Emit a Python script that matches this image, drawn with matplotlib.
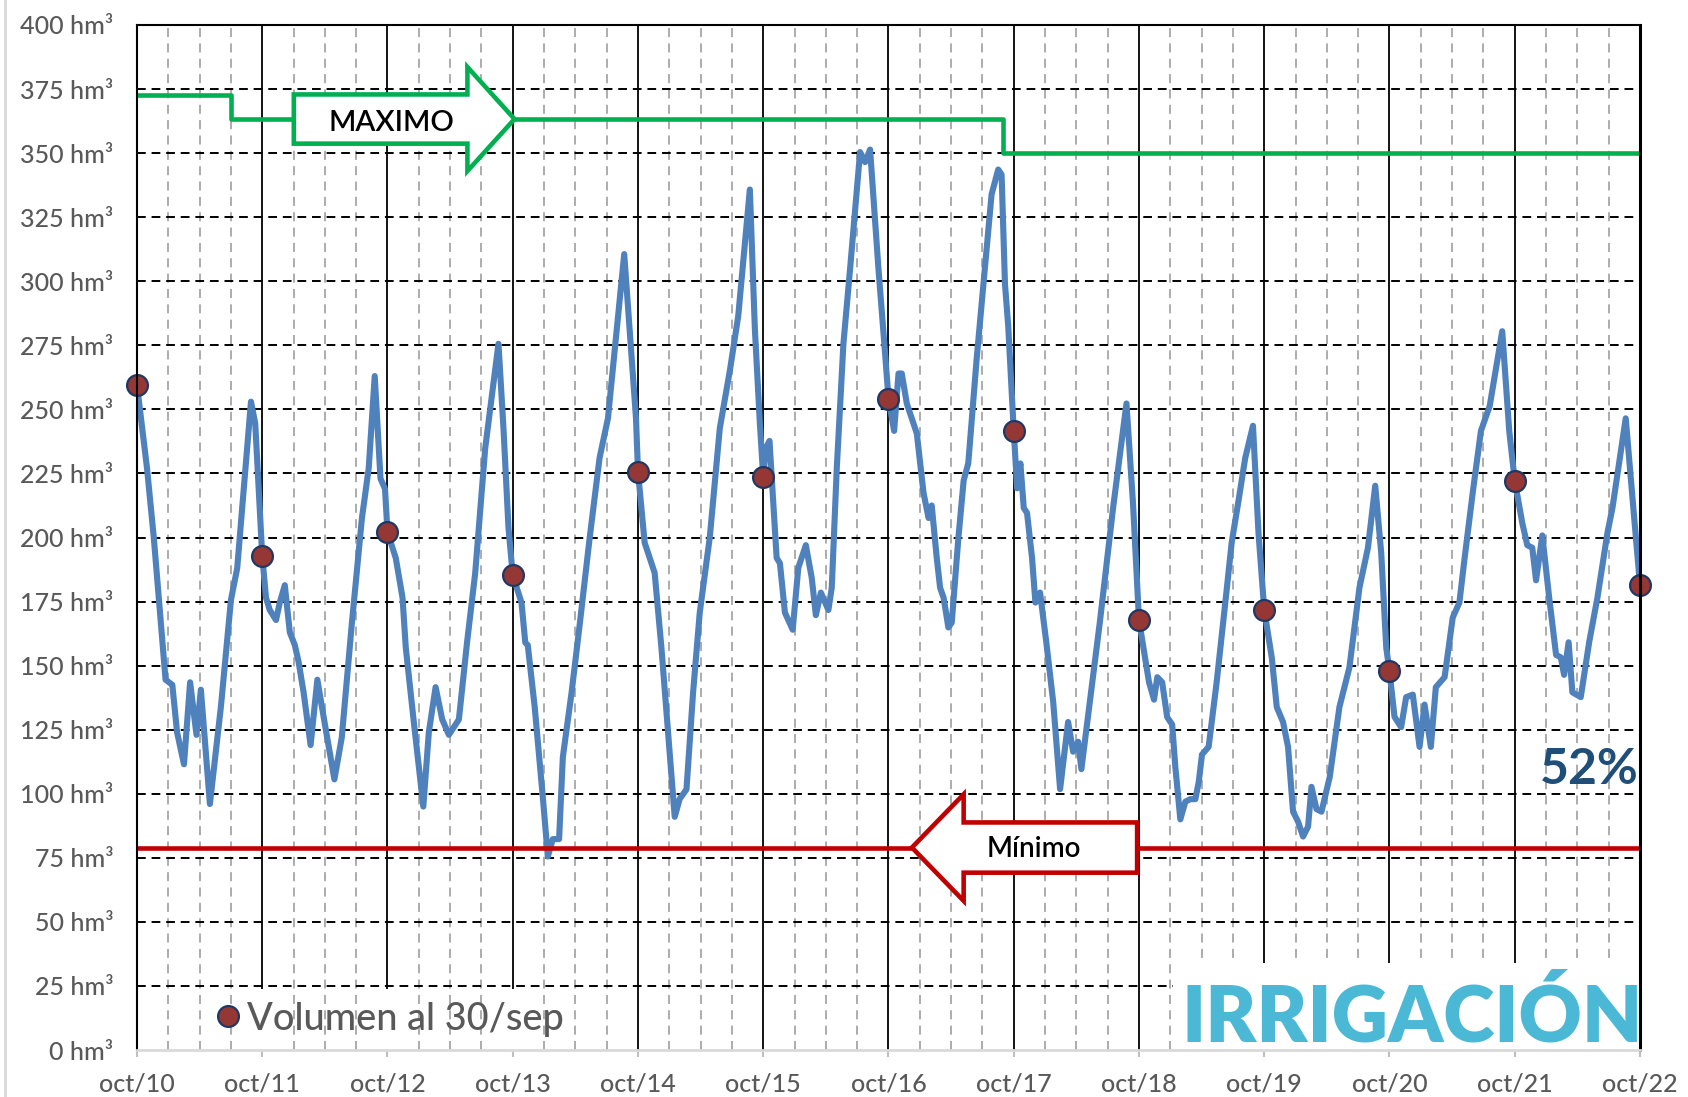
import matplotlib
matplotlib.use("Agg")
import matplotlib.pyplot as plt
from matplotlib.patches import Polygon, Rectangle
from matplotlib.lines import Line2D

plt.rcParams['font.family'] = ['Lato', 'DejaVu Sans']

# ---------------- data ----------------
year_labels = ["oct/10", "oct/11", "oct/12", "oct/13", "oct/14", "oct/15", "oct/16",
               "oct/17", "oct/18", "oct/19", "oct/20", "oct/21", "oct/22"]
y_ticks = [0, 25, 50, 75, 100, 125, 150, 175, 200, 225, 250, 275, 300, 325, 350, 375, 400]

# reservoir volume (hm3); time in years since oct/10
vol_t = [0.0, 0.08, 0.134, 0.228, 0.282, 0.32, 0.375, 0.424, 0.475, 0.51, 0.582, 0.67, 0.75, 0.80,
         0.91, 0.944, 1.0, 1.03, 1.06, 1.11, 1.14, 1.18, 1.22, 1.26, 1.29, 1.33, 1.386, 1.44, 1.49,
         1.576, 1.635, 1.716, 1.796, 1.85, 1.898, 1.944, 1.98, 2.0,
         2.066, 2.12, 2.146, 2.21, 2.286, 2.33, 2.384, 2.437, 2.49, 2.57, 2.635, 2.70, 2.78, 2.886,
         2.926, 2.966, 3.0, 3.07, 3.10, 3.12, 3.175, 3.243, 3.28, 3.32, 3.37, 3.40, 3.47, 3.534,
         3.614, 3.693, 3.76, 3.89, 3.984, 4.0,
         4.053, 4.08, 4.133, 4.187, 4.293, 4.333, 4.387, 4.44, 4.493, 4.573, 4.653, 4.733, 4.8,
         4.893, 4.933, 4.973, 5.0, 5.02, 5.05, 5.107, 5.133, 5.173, 5.235, 5.28, 5.34, 5.387, 5.42,
         5.46, 5.52, 5.547, 5.587, 5.64, 5.693, 5.773, 5.813, 5.853, 5.92, 5.973, 6.0,
         6.045, 6.08, 6.106, 6.146, 6.186, 6.226, 6.28, 6.32, 6.345, 6.385, 6.412, 6.44, 6.478,
         6.505, 6.558, 6.6, 6.637, 6.704, 6.783, 6.823, 6.876, 6.903, 6.93, 6.956, 7.0,
         7.027, 7.053, 7.08, 7.106, 7.146, 7.173, 7.21, 7.26, 7.315, 7.37, 7.434, 7.474, 7.514,
         7.54, 7.607, 7.687, 7.793, 7.9, 7.952, 8.0,
         8.08, 8.12, 8.146, 8.185, 8.225, 8.265, 8.29, 8.33, 8.37, 8.41, 8.45, 8.477, 8.503, 8.556,
         8.62, 8.69, 8.74, 8.795, 8.848, 8.91, 8.954, 9.0, 9.06, 9.1, 9.15, 9.19, 9.23, 9.27, 9.31,
         9.35, 9.377, 9.417, 9.457, 9.523, 9.6, 9.68, 9.76, 9.828, 9.886, 9.934, 9.974, 10.0,
         10.04, 10.093, 10.133, 10.186, 10.24, 10.28, 10.33, 10.37, 10.44, 10.505, 10.558, 10.6,
         10.664, 10.73, 10.8, 10.9, 10.956, 11.0, 11.06, 11.1, 11.14, 11.17, 11.22, 11.275, 11.33,
         11.368, 11.394, 11.43, 11.46, 11.527, 11.594, 11.66, 11.74, 11.78, 11.886, 11.94, 12.0]
vol_v = [259.5, 227, 200, 144.5, 142.5, 124, 111.5, 143.5, 123, 140.6, 96, 134, 175.6, 188,
         253, 244.5, 192.7, 176.5, 171.7, 167.8, 174.6, 181.4, 163, 158, 151.5, 139.6, 119, 144.5, 130,
         105.6, 122, 166.8, 207.6, 227, 263, 223, 219, 202,
         192, 176.5, 157, 128, 95, 124, 141.6, 129, 123, 129, 159, 186, 234.8, 275.6,
         242.6, 203.7, 185.3, 174.6, 159, 158, 134, 97, 75.5, 82.3, 82.3, 114.3, 139.6, 165.8,
         199.8, 231, 246.5, 310.6, 246.5, 225.7,
         198, 194, 186.2, 157, 91, 98, 101.7, 139.6, 170.7, 200, 242.6, 265, 286.3,
         335.8, 281.4, 244.5, 223.5, 234.8, 237.7, 192, 190, 170.7, 164, 188.2, 197, 184.3, 169.7,
         178.5, 171.7, 180.4, 227, 275.6, 304.7, 350.4, 346.5, 351.4, 304.7, 271.7, 254.2,
         241.6, 264, 264, 252.3, 246.5, 240.6, 217.3, 207.6, 212.5, 192.1, 180.4, 176.5, 164.9,
         166.8, 199.8, 222.2, 229, 269.8, 312.5, 333.9, 343.6, 341.6, 298.9, 282.4, 241.6,
         219.2, 228.9, 211.5, 209.6, 192.1, 174.6, 178.5, 159.1, 135.8, 101.8, 128, 116.4, 120.3,
         109.6, 135.8, 166.8, 211.5, 252.3, 213.4, 167.8,
         143.5, 136.7, 145.5, 143.5, 129.9, 127, 110.5, 90, 96.9, 97.9, 97.9, 104.6, 115.3, 118.3,
         143.5, 175, 198, 214.5, 231, 243.6, 201.8, 171.7, 153.2, 133.8, 128, 118.3, 93, 89.1, 83.3,
         87.2, 102.7, 94, 93, 106.6, 133.8, 149.3, 180.4, 196, 220.2, 193.9, 157, 147.8,
         130, 126, 137.7, 138.7, 118.3, 134.8, 118.3, 141.6, 145.5, 168.8, 174.6, 192.1,
         217.3, 241.6, 251.3, 280.5, 241.6, 222.2, 205.7, 197, 196, 183.3, 200.8, 176.5, 154.2,
         153.2, 146.4, 159.1, 139.6, 137.7, 159.1, 176.5, 201.8, 211.5, 246.5, 215.4, 181.4]

# volume at 30/sep each year
sep_t = [0, 1, 2, 3, 4, 5, 6, 7, 8, 9, 10, 11, 12]
sep_v = [259.5, 192.7, 202, 185.3, 225.7, 223.5, 254.2, 241.6, 167.8, 171.7, 147.8, 222.2, 181.4]

# maximum (step) and minimum levels
max_t = [0, 0.747, 6.916, 12]
max_v = [372.8, 363.4, 350, 350]
min_t = [0, 12]
min_v = [79, 79]

pct_text = "52%"

# ---------------- styling ----------------
BLUE = "#4F81BD"
GREEN = "#00B050"
RED = "#C00000"
DOT = "#953735"
DOT_EDGE = "#1F3864"
GRAY_TXT = "#595959"

fig = plt.figure(figsize=(16.88, 10.97), dpi=100)
ax = fig.add_axes([137 / 1688, 1 - 1050 / 1097, (1640 - 137) / 1688, (1050 - 25) / 1097])
ax.set_xlim(0, 12)
ax.set_ylim(0, 400)

# grid
ax.set_xticks(range(len(year_labels)))
ax.set_xticklabels(year_labels)
ax.set_xticks([y + q / 4 for y in range(12) for q in (1, 2, 3)], minor=True)
ax.set_yticks(y_ticks)
ax.set_yticklabels([f"{v} hm\u00b3" for v in y_ticks])

for i in range(1, len(year_labels) - 1):
    ax.axvline(i, color="black", lw=1.3, zorder=1.0)
for xm in ax.get_xticks(minor=True):
    ax.axvline(xm, color="#A6A6A6", lw=1.3, ls=(0, (5, 3.5)), zorder=2.0)
for yv in y_ticks[1:-1]:
    ax.axhline(yv, color="black", lw=1.4, ls=(0, (4.5, 3)), zorder=2.1)

# legend background (hides the year lines only)
ax.add_patch(Rectangle((0, 0), 3.5, 24, facecolor="white", edgecolor="none", zorder=1.5))

# series
ax.plot(vol_t, vol_v, color=BLUE, lw=4.4, solid_joinstyle="round", zorder=3)
ax.plot(max_t, max_v, color=GREEN, lw=3.3, drawstyle="steps-post", zorder=3.2)
ax.plot(min_t, min_v, color=RED, lw=3.3, zorder=3.2)
dots, = ax.plot(sep_t, sep_v, "o", ms=15, mfc=DOT, mec=DOT_EDGE, mew=1.6, zorder=5,
                clip_on=False, label="Volumen al 30/sep")


def arrow(tail, base, tip, yc, body, head, ec):
    pts = [(tail, yc - body), (tail, yc + body), (base, yc + body), (base, yc + head),
           (tip, yc), (base, yc - head), (base, yc - body)]
    ax.add_patch(Polygon(pts, closed=True, facecolor="white", edgecolor=ec, lw=3.3,
                         joinstyle="miter", zorder=4))


arrow(1.252, 2.638, 3.014, 363.3, 9.6, 20.3, GREEN)
ax.text(2.03, 362.6, "MAXIMO", ha="center", va="center_baseline", fontsize=21,
        fontweight="semibold", color="black", zorder=4.5)
arrow(7.985, 6.6, 6.187, 79, 9.8, 20.8, RED)
ax.text(7.16, 79.5, "Mínimo", ha="center", va="center_baseline", fontsize=20,
        fontweight="semibold", color="black", zorder=4.5)

ax.text(11.99, 111, pct_text, ha="right", va="center_baseline", fontsize=36,
        fontweight="bold", color="#1F4E79", zorder=4.5)

# logo
ax.add_patch(Rectangle((8.27, 0), 3.72, 34, facecolor="white", edgecolor="none", zorder=6))
ax.text(8.34, 3.2, "IRRIGACIÓN", ha="left", va="baseline", fontsize=56, fontweight="heavy",
        color="#4BB9D5", zorder=7)

# legend
leg = ax.legend(handles=[dots], loc="center left", bbox_to_anchor=(0.043, 0.030),
                frameon=False, prop={"size": 27.3, "weight": "medium"}, handlelength=0.6,
                handletextpad=0.2, borderaxespad=0, labelcolor=GRAY_TXT)
leg.set_zorder(8)

# axes
for s in ("top", "left", "right"):
    ax.spines[s].set_color("black")
    ax.spines[s].set_linewidth(1.5)
    ax.spines[s].set_zorder(10)
ax.spines["right"].set_linewidth(2.2)
ax.spines["bottom"].set_color("#D9D9D9")
ax.spines["bottom"].set_linewidth(2)
ax.spines["bottom"].set_zorder(10)
ax.tick_params(axis="y", length=0, pad=17, labelsize=18, labelcolor=GRAY_TXT)
ax.tick_params(axis="x", which="major", length=5, width=1.5, color="#BFBFBF", pad=11,
               labelsize=18, labelcolor=GRAY_TXT)
ax.tick_params(axis="x", which="minor", length=0)
for lab in ax.get_xticklabels() + ax.get_yticklabels():
    lab.set_fontweight("medium")

fig.add_artist(Line2D([5 / 1688, 5 / 1688], [0, 1], color="#D9D9D9", lw=2))

fig.savefig("out.png", dpi=100)
